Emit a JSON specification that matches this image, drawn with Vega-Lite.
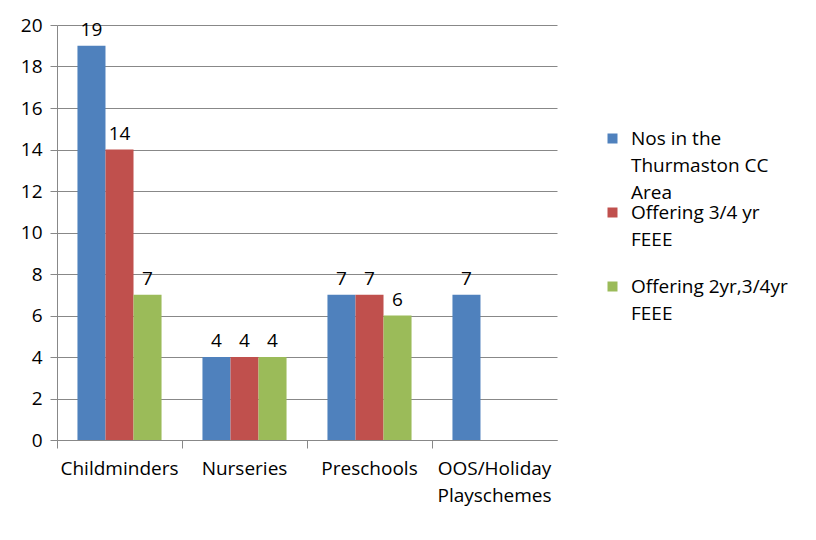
{
  "$schema": "https://vega.github.io/schema/vega-lite/v6.json",
  "width": 500,
  "height": 415,
  "autosize": {"type": "none"},
  "padding": {"left": 57, "top": 25, "right": 259, "bottom": 100},
  "background": "white",
  "data": {"values": [
    {"cat": "Childminders", "series": "Nos in the Thurmaston CC Area", "v": 19},
    {"cat": "Childminders", "series": "Offering 3/4 yr FEEE", "v": 14},
    {"cat": "Childminders", "series": "Offering 2yr,3/4yr FEEE", "v": 7},
    {"cat": "Nurseries", "series": "Nos in the Thurmaston CC Area", "v": 4},
    {"cat": "Nurseries", "series": "Offering 3/4 yr FEEE", "v": 4},
    {"cat": "Nurseries", "series": "Offering 2yr,3/4yr FEEE", "v": 4},
    {"cat": "Preschools", "series": "Nos in the Thurmaston CC Area", "v": 7},
    {"cat": "Preschools", "series": "Offering 3/4 yr FEEE", "v": 7},
    {"cat": "Preschools", "series": "Offering 2yr,3/4yr FEEE", "v": 6},
    {"cat": "OOS/Holiday Playschemes", "series": "Nos in the Thurmaston CC Area", "v": 7}
  ]},
  "encoding": {
    "x": {"field": "cat", "type": "nominal", "sort": null,
      "scale": {"paddingInner": 0, "paddingOuter": 0},
      "axis": {"title": null, "labelAngle": 0, "bandPosition": 0, "tickSize": 8, "tickColor": "#888", "domainColor": "#888", "labelPadding": 11, "labelFont": "Open Sans", "labelFontSize": 19, "labelColor": "#000", "labelBaseline": "top", "labelLineHeight": 27,
        "labelExpr": "datum.value == 'OOS/Holiday Playschemes' ? ['OOS/Holiday', 'Playschemes'] : datum.label"}},
    "xOffset": {"field": "series", "type": "nominal", "sort": null,
      "scale": {"paddingInner": 0, "paddingOuter": 0.73, "domain": ["Nos in the Thurmaston CC Area", "Offering 3/4 yr FEEE", "Offering 2yr,3/4yr FEEE"]}},
    "y": {"field": "v", "type": "quantitative",
      "scale": {"domain": [0, 20], "nice": false},
      "axis": {"title": null, "values": [0, 2, 4, 6, 8, 10, 12, 14, 16, 18, 20], "tickSize": 7, "tickColor": "#888", "domainColor": "#888", "gridColor": "#888", "grid": true, "labelPadding": 8, "labelFont": "Open Sans", "labelFontSize": 19, "labelColor": "#000"}}
  },
  "layer": [
    {"mark": {"type": "bar"},
      "encoding": {
        "color": {"field": "series", "type": "nominal", "sort": null,
          "scale": {"domain": ["Nos in the Thurmaston CC Area", "Offering 3/4 yr FEEE", "Offering 2yr,3/4yr FEEE"], "range": ["#4F81BD", "#C0504D", "#9BBB59"]},
          "legend": {"title": null, "orient": "none", "legendX": 546, "legendY": 104, "symbolType": "square", "symbolSize": 100, "symbolStrokeWidth": 0, "labelFont": "Open Sans", "labelFontSize": 19, "labelColor": "#000", "labelLimit": 300, "rowPadding": -5, "labelOffset": 9,
            "labelExpr": "datum.value == 'Nos in the Thurmaston CC Area' ? ['Nos in the', 'Thurmaston CC', 'Area'] : datum.value == 'Offering 3/4 yr FEEE' ? ['Offering 3/4 yr', 'FEEE', ' '] : ['Offering 2yr,3/4yr', 'FEEE', ' ']",
            "encoding": {"labels": {"lineHeight": {"value": 27}}}}}
      }},
    {"mark": {"type": "text", "baseline": "bottom", "dy": -6, "font": "Open Sans", "fontSize": 19, "color": "#000"},
      "encoding": {"text": {"field": "v", "type": "quantitative"}}}
  ],
  "config": {"view": {"stroke": null}, "axis": {"gridWidth": 1}}
}
